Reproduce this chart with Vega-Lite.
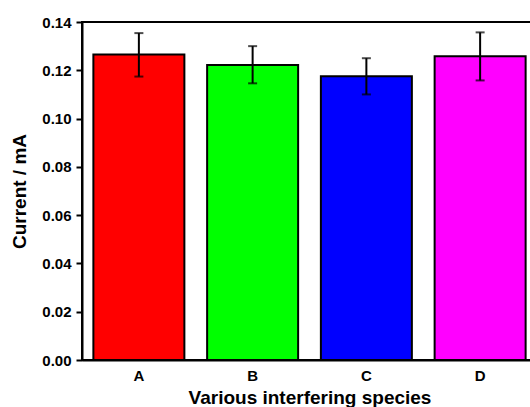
{
  "$schema": "https://vega.github.io/schema/vega-lite/v6.json",
  "width": 455,
  "height": 338,
  "padding": {"left": 10, "top": 15, "right": 0, "bottom": 0},
  "background": "white",
  "data": {"values": [
    {"species": "A", "current": 0.1265, "lo": 0.1174, "hi": 0.1354, "color": "#FF0000"},
    {"species": "B", "current": 0.1222, "lo": 0.1146, "hi": 0.1300, "color": "#00FF00"},
    {"species": "C", "current": 0.1175, "lo": 0.1100, "hi": 0.1250, "color": "#0000FF"},
    {"species": "D", "current": 0.1258, "lo": 0.1158, "hi": 0.1357, "color": "#FF00FF"}
  ]},
  "config": {
    "view": {"stroke": "black", "strokeWidth": 2},
    "font": "Liberation Sans",
    "axis": {"domainColor": "black", "domainWidth": 2, "tickColor": "black", "tickWidth": 2, "labelColor": "black", "titleColor": "black", "labelFont": "Liberation Sans", "titleFont": "Liberation Sans", "labelFontWeight": "bold", "titleFontWeight": "bold", "labelFontSize": 15, "titleFontSize": 19, "grid": false}
  },
  "encoding": {
    "x": {"field": "species", "type": "nominal", "scale": {"paddingInner": 0.2, "paddingOuter": 0.1}, "axis": {"title": "Various interfering species", "labelAngle": 0, "ticks": false, "labelPadding": 8, "titlePadding": 5}}
  },
  "layer": [
    {
      "mark": {"type": "bar", "stroke": "black", "strokeWidth": 2},
      "encoding": {
        "y": {"field": "current", "type": "quantitative", "scale": {"domain": [0, 0.14], "nice": false}, "axis": {"title": "Current / mA", "values": [0, 0.01, 0.02, 0.03, 0.04, 0.05, 0.06, 0.07, 0.08, 0.09, 0.10, 0.11, 0.12, 0.13, 0.14], "labelExpr": "round(datum.value*100) % 2 === 0 ? format(datum.value, '.2f') : ''", "tickSize": {"condition": {"test": "round(datum.value*100) % 2 === 1", "value": 3}, "value": 6}, "labelPadding": 5, "titlePadding": 12}},
        "color": {"field": "color", "type": "nominal", "scale": null}
      }
    },
    {
      "mark": {"type": "rule", "color": "black", "strokeWidth": 2},
      "encoding": {"y": {"field": "lo", "type": "quantitative"}, "y2": {"field": "hi"}}
    },
    {
      "mark": {"type": "tick", "color": "black", "thickness": 2, "size": 9, "orient": "horizontal"},
      "encoding": {"y": {"field": "lo", "type": "quantitative"}}
    },
    {
      "mark": {"type": "tick", "color": "black", "thickness": 2, "size": 9, "orient": "horizontal"},
      "encoding": {"y": {"field": "hi", "type": "quantitative"}}
    }
  ]
}
